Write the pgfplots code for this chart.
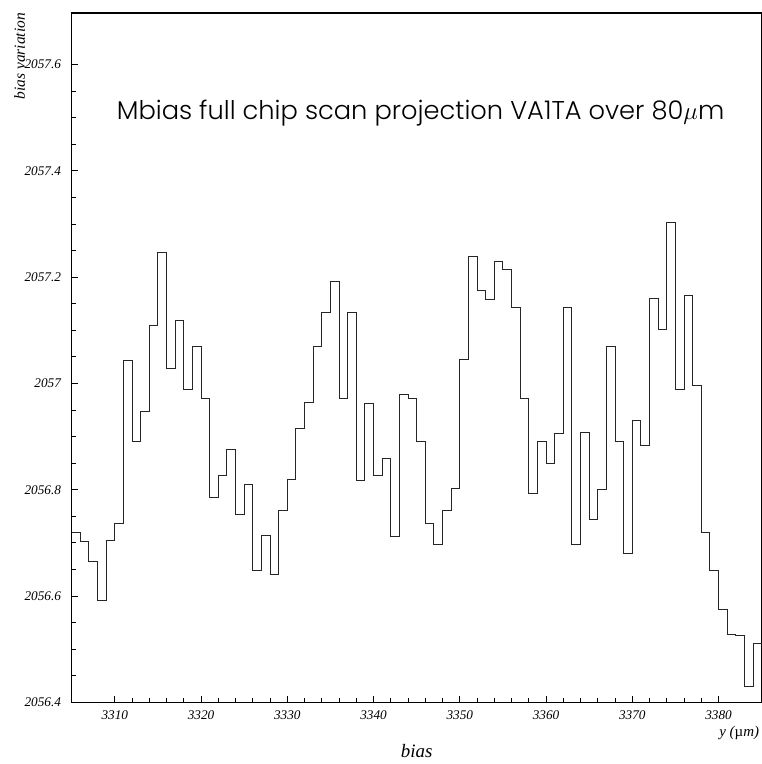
\documentclass[border=0pt]{standalone}
\usepackage{pgfplots}
\pgfplotsset{compat=1.18}
\usepackage{fontspec}
\setmainfont{Liberation Serif}
\IfFontExistsTF{Poppins Light}{\newfontfamily\titlefont{Poppins Light}}{\newfontfamily\titlefont{Poppins}}
\pgfplotstableread{
x y
3305 2056.720
3306 2056.703
3307 2056.665
3308 2056.591
3309 2056.704
3310 2056.737
3311 2057.044
3312 2056.891
3313 2056.947
3314 2057.109
3315 2057.247
3316 2057.028
3317 2057.119
3318 2056.988
3319 2057.069
3320 2056.972
3321 2056.786
3322 2056.826
3323 2056.875
3324 2056.753
3325 2056.809
3326 2056.648
3327 2056.713
3328 2056.640
3329 2056.760
3330 2056.819
3331 2056.915
3332 2056.964
3333 2057.069
3334 2057.134
3335 2057.191
3336 2056.971
3337 2057.134
3338 2056.818
3339 2056.963
3340 2056.826
3341 2056.858
3342 2056.712
3343 2056.979
3344 2056.971
3345 2056.891
3346 2056.737
3347 2056.696
3348 2056.760
3349 2056.802
3350 2057.045
3351 2057.238
3352 2057.174
3353 2057.158
3354 2057.230
3355 2057.215
3356 2057.142
3357 2056.972
3358 2056.793
3359 2056.890
3360 2056.850
3361 2056.906
3362 2057.142
3363 2056.696
3364 2056.907
3365 2056.744
3366 2056.801
3367 2057.069
3368 2056.890
3369 2056.680
3370 2056.931
3371 2056.883
3372 2057.159
3373 2057.101
3374 2057.303
3375 2056.988
3376 2057.165
3377 2056.996
3378 2056.720
3379 2056.648
3380 2056.574
3381 2056.527
3382 2056.525
3383 2056.429
3384 2056.510
3385 2056.510
}\histdata
\begin{document}
\begin{tikzpicture}
\path[use as bounding box] (-71.7bp,-61.7bp) rectangle (690.3bp,702.3bp);
\begin{axis}[
  at={(0,0)}, anchor=south west,
  scale only axis,
  width=690bp, height=689.3bp,
  xmin=3305, xmax=3385,
  ymin=2056.4, ymax=2057.697,
  xtick={3310,3320,3330,3340,3350,3360,3370,3380},
  minor x tick num=4,
  ytick={2056.4,2056.6,2056.8,2057,2057.2,2057.4,2057.6},
  yticklabels={2056.4,2056.6,2056.8,2057,2057.2,2057.4,2057.6},
  xticklabels={3310,3320,3330,3340,3350,3360,3370,3380},
  minor y tick num=3,
  tick align=inside,
  xtick pos=left, ytick pos=left,
  major tick length=6.5bp,
  minor tick length=4bp,
  axis line style={line width=1.4bp, black},
  tick style={line width=0.9bp, black},
  /pgf/number format/assume math mode=true,
  ticklabel style={font=\fontsize{13.3}{15}\selectfont\itshape},
  yticklabel style={inner sep=0pt, anchor=east, xshift=-10.5bp},
  xticklabel style={inner sep=0pt, anchor=north, yshift=-8bp},
  xlabel={bias},
  xlabel style={at={(axis description cs:0.5,-0.0794)}, anchor=base, inner sep=0pt,
    font=\fontsize{19}{22}\selectfont\itshape},
  ylabel={bias variation},
  ylabel style={at={(axis description cs:-0.0677,1)}, anchor=base east, inner sep=0pt,
    font=\fontsize{15.5}{18}\selectfont\itshape},
  clip mode=individual,
]
\addplot[const plot, line width=1bp, black!85] table[x=x,y=y] {\histdata};
\node[anchor=base east, inner sep=0pt, font=\fontsize{15}{18}\selectfont]
  at (axis description cs:0.9965,-0.0499) {\itshape y (\upshape µ\itshape m)};
\node[anchor=base west, inner sep=0pt, font=\fontsize{25.8}{30}\titlefont]
  at (axis description cs:0.0652,0.8458) {Mbias full chip scan projection VA1TA over 80$\mu$m};
\end{axis}
\end{tikzpicture}
\end{document}
